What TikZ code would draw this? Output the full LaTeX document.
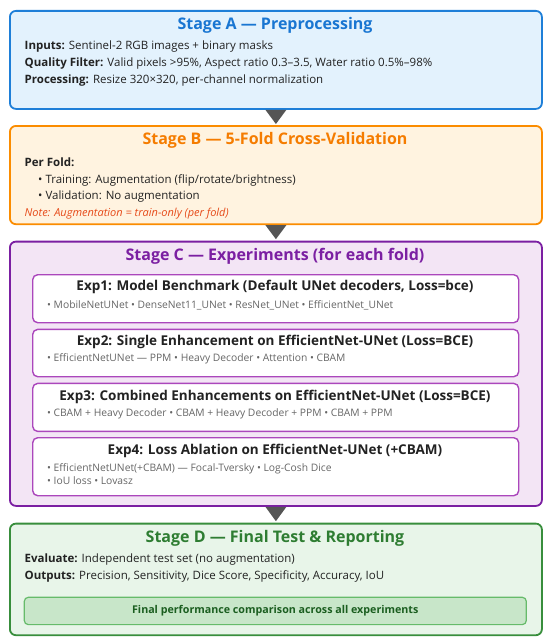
\documentclass[tikz,border=0pt]{standalone}
\usepackage{fontspec}
\setmainfont{Open Sans}
\usetikzlibrary{calc}
\definecolor{aB}{HTML}{1E7FD8}
\definecolor{aF}{HTML}{E3F2FD}
\definecolor{aT}{HTML}{1976D2}
\definecolor{bB}{HTML}{FB8C00}
\definecolor{bF}{HTML}{FFF3E0}
\definecolor{bT}{HTML}{F57C00}
\definecolor{cB}{HTML}{7B1FA2}
\definecolor{cF}{HTML}{F3E5F5}
\definecolor{cT}{HTML}{7B1FA2}
\definecolor{eB}{HTML}{AB47BC}
\definecolor{dB}{HTML}{388E3C}
\definecolor{dF}{HTML}{E8F5E9}
\definecolor{dT}{HTML}{2E7D32}
\definecolor{dIF}{HTML}{C8E6C9}
\definecolor{dIB}{HTML}{66BB6A}
\definecolor{dIT}{HTML}{1B5E20}
\definecolor{noteC}{HTML}{E64A19}
\definecolor{arrowC}{HTML}{555555}
\definecolor{textdark}{HTML}{222222}
\definecolor{itemC}{HTML}{666666}
\begin{document}
\begin{tikzpicture}[x=1pt,y=-1pt,
  stagebox/.style={draw, line width=1.8pt, rounded corners=6pt, inner sep=0pt, anchor=north west, minimum width=532pt},
  stitle/.style={inner sep=0pt, font=\fontsize{16}{19}\selectfont\bfseries},
  body/.style={anchor=west, inner sep=0pt, text=textdark, font=\fontsize{11.5}{13}\selectfont},
  expbox/.style={draw=eB, fill=white, line width=1.4pt, rounded corners=5pt, anchor=north west, minimum width=486pt, inner sep=0pt},
  exptitle/.style={inner sep=0pt, text=textdark, font=\fontsize{13.5}{16}\selectfont\bfseries},
  expitem/.style={anchor=west, inner sep=0pt, text=itemC, font=\fontsize{10.3}{12}\selectfont},
  tri/.style={fill=arrowC}
]
\useasboundingbox (0,0) rectangle (550,642);

% Stage A
\node[stagebox, draw=aB, fill=aF, minimum height=98pt] (A) at (9,10) {};
\node[stitle, text=aT] (At) at (275,25) {Stage A — Preprocessing};
\node[body] (A1) at (24.5,46.7) {\textbf{Inputs:} Sentinel-2 RGB images + binary masks};
\node[body] (A2) at (24.5,63.3) {\textbf{Quality Filter:} Valid pixels >95\%, Aspect ratio 0.3–3.5, Water ratio 0.5\%–98\%};
\node[body] (A3) at (24.5,80.7) {\textbf{Processing:} Resize 320×320, per-channel normalization};

% Stage B
\node[stagebox, draw=bB, fill=bF, minimum height=98.3pt] (B) at (9,125) {};
\node[stitle, text=bT] (Bt) at (275,140.7) {Stage B — 5-Fold Cross-Validation};
\node[body] (B1) at (24.5,162.7) {\textbf{Per Fold:}};
\node[body] (B2) at (38,180) {• Training: Augmentation (flip/rotate/brightness)};
\node[body] (B3) at (38,196.5) {• Validation: No augmentation};
\node[body, text=noteC, font=\fontsize{11}{13}\selectfont\itshape] (B4) at (24.5,213.3) {Note: Augmentation = train-only (per fold)};

% Stage C
\node[stagebox, draw=cB, fill=cF, minimum height=264.3pt] (C) at (9,240.7) {};
\node[stitle, text=cT] (Ct) at (275,256) {Stage C — Experiments (for each fold)};

\node[expbox, minimum height=48pt] (E1) at (32,274) {};
\node[exptitle] (E1t) at (275,287.3) {Exp1: Model Benchmark (Default UNet decoders, Loss=bce)};
\node[expitem] (E1a) at (47,305.3) {• MobileNetUNet • DenseNet11\_UNet • ResNet\_UNet • EfficientNet\_UNet};

\node[expbox, minimum height=47.3pt] (E2) at (32,328.7) {};
\node[exptitle] (E2t) at (275,342) {Exp2: Single Enhancement on EfficientNet-UNet (Loss=BCE)};
\node[expitem] (E2a) at (47,359) {• EfficientNetUNet — PPM • Heavy Decoder • Attention • CBAM};

\node[expbox, minimum height=48pt] (E3) at (32,382.7) {};
\node[exptitle] (E3t) at (275,396.7) {Exp3: Combined Enhancements on EfficientNet-UNet (Loss=BCE)};
\node[expitem] (E3a) at (47,413.7) {• CBAM + Heavy Decoder • CBAM + Heavy Decoder + PPM • CBAM + PPM};

\node[expbox, minimum height=58pt] (E4) at (32,437) {};
\node[exptitle] (E4t) at (275,450.7) {Exp4: Loss Ablation on EfficientNet-UNet (+CBAM)};
\node[expitem] (E4a) at (47,468.7) {• EfficientNetUNet(+CBAM) — Focal-Tversky • Log-Cosh Dice};
\node[expitem] (E4b) at (47,480.7) {• IoU loss • Lovasz};

% Stage D
\node[stagebox, draw=dB, fill=dF, minimum height=111.6pt] (D) at (9,522.7) {};
\node[stitle, text=dT] (Dt) at (275,538) {Stage D — Final Test \& Reporting};
\node[body] (D1) at (24.5,560) {\textbf{Evaluate:} Independent test set (no augmentation)};
\node[body] (D2) at (24.5,576.7) {\textbf{Outputs:} Precision, Sensitivity, Dice Score, Specificity, Accuracy, IoU};
\node[draw=dIB, fill=dIF, line width=1.2pt, rounded corners=4pt, anchor=north west, minimum width=502pt, minimum height=27.3pt, inner sep=0pt] (DI) at (23.7,596.7) {};
\node[inner sep=0pt, text=dIT, font=\fontsize{10.7}{12}\selectfont\bfseries] (DIt) at (DI.center) {Final performance comparison across all experiments};

% connectors (triangles)
\fill[tri] ($(A.south)+(-10.5,0)$) -- ($(A.south)+(10.5,0)$) -- ($(B.north)+(0,-1)$) -- cycle;
\fill[tri] ($(B.south)+(-10.5,0)$) -- ($(B.south)+(10.5,0)$) -- ($(C.north)+(0,-1.5)$) -- cycle;
\fill[tri] ($(C.south)+(-10.5,0)$) -- ($(C.south)+(10.5,0)$) -- ($(D.north)+(0,-1.5)$) -- cycle;
\end{tikzpicture}
\end{document}
